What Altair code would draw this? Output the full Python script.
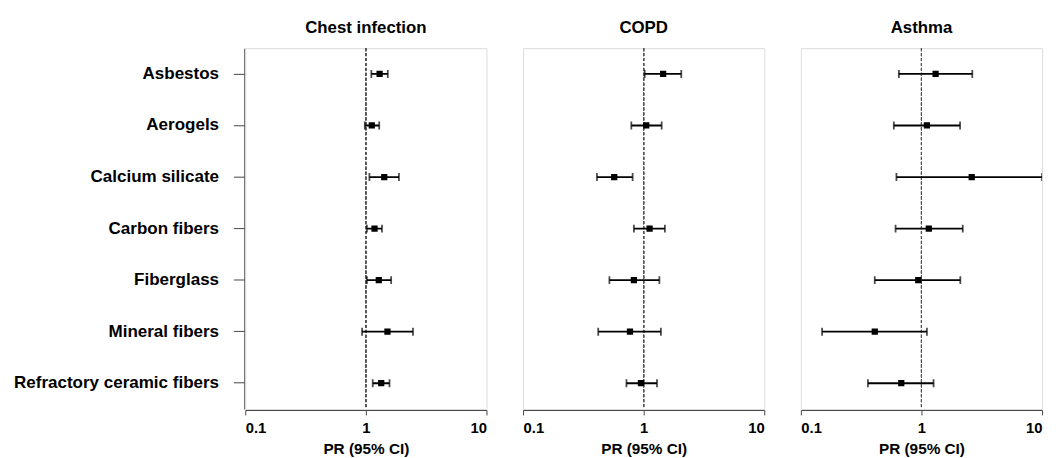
import altair as alt
import pandas as pd

cats = ["Asbestos", "Aerogels", "Calcium silicate", "Carbon fibers",
        "Fiberglass", "Mineral fibers", "Refractory ceramic fibers"]
outcomes = ["Chest infection", "COPD", "Asthma"]

chest_pr = [1.30, 1.12, 1.42, 1.18, 1.28, 1.51, 1.34]
chest_lo = [1.11, 0.98, 1.07, 1.02, 1.02, 0.93, 1.14]
chest_hi = [1.52, 1.29, 1.88, 1.36, 1.62, 2.46, 1.57]

copd_pr = [1.45, 1.05, 0.57, 1.12, 0.83, 0.77, 0.95]
copd_lo = [1.02, 0.79, 0.41, 0.83, 0.52, 0.42, 0.72]
copd_hi = [2.05, 1.41, 0.81, 1.50, 1.35, 1.39, 1.29]

asthma_pr = [1.31, 1.11, 2.61, 1.15, 0.94, 0.41, 0.68]
asthma_lo = [0.65, 0.59, 0.62, 0.61, 0.41, 0.15, 0.36]
asthma_hi = [2.64, 2.09, 10.0, 2.20, 2.10, 1.11, 1.26]

rows = []
for name, pr, lo, hi in [("Chest infection", chest_pr, chest_lo, chest_hi),
                         ("COPD", copd_pr, copd_lo, copd_hi),
                         ("Asthma", asthma_pr, asthma_lo, asthma_hi)]:
    for c, p, l, h in zip(cats, pr, lo, hi):
        rows.append({"outcome": name, "material": c, "pr": p, "lo": l, "hi": h})
df = pd.DataFrame(rows)

FONT = "Liberation Sans"

xscale = alt.Scale(type="log", domain=[0.1, 10], nice=False)
xaxis = alt.Axis(values=[0.1, 1, 10], format="~g", grid=False, title="PR (95% CI)",
                 labelFontSize=15, labelFontWeight="bold", labelFont=FONT,
                 titleFontSize=15.5, titleFontWeight="bold", titleFont=FONT,
                 tickSize=5, labelPadding=6, titlePadding=6,
                 domainColor="#444", tickColor="#444", labelColor="black", titleColor="black")
yaxis = alt.Axis(title=None, labelFontSize=17.2, labelFontWeight="bold", labelFont=FONT,
                 tickSize=11, labelPadding=15, labelLimit=400, domainColor="#444", tickColor="#444",
                 labelColor="black")
y = alt.Y("material:N", sort=cats, axis=yaxis)

base = alt.Chart()

ref = base.mark_rule(color="#555", strokeDash=[3, 2], strokeWidth=1).encode(x=alt.datum(1, scale=xscale))
bars = base.mark_rule(color="black", strokeWidth=1.8, clip=True).encode(
    x=alt.X("lo:Q", scale=xscale, axis=xaxis), x2="hi:Q", y=y)
caps_lo = base.mark_tick(color="black", thickness=1.8, size=8, clip=True).encode(
    x=alt.X("lo:Q", scale=xscale, axis=xaxis), y=y)
caps_hi = base.mark_tick(color="black", thickness=1.8, size=8, clip=True).encode(
    x=alt.X("hi:Q", scale=xscale, axis=xaxis), y=y)
pts = base.mark_square(color="black", size=40, opacity=1, clip=True).encode(
    x=alt.X("pr:Q", scale=xscale, axis=xaxis), y=y)

layer = alt.layer(ref, bars, caps_lo, caps_hi, pts).properties(width=244, height=365)

chart = layer.facet(
    data=df,
    column=alt.Column("outcome:N", sort=outcomes, title=None,
                      header=alt.Header(labelFontSize=17, labelFontWeight="bold", labelFont=FONT,
                                        labelColor="black", labelPadding=10)),
    spacing=35,
).resolve_scale(x="shared").properties(
    padding={"left": 5, "top": 9, "right": 5, "bottom": 5}
).configure_view(stroke="#444", strokeWidth=1).configure(background="white")

chart.save("out.html", embed_options={"renderer": "svg", "actions": False})
